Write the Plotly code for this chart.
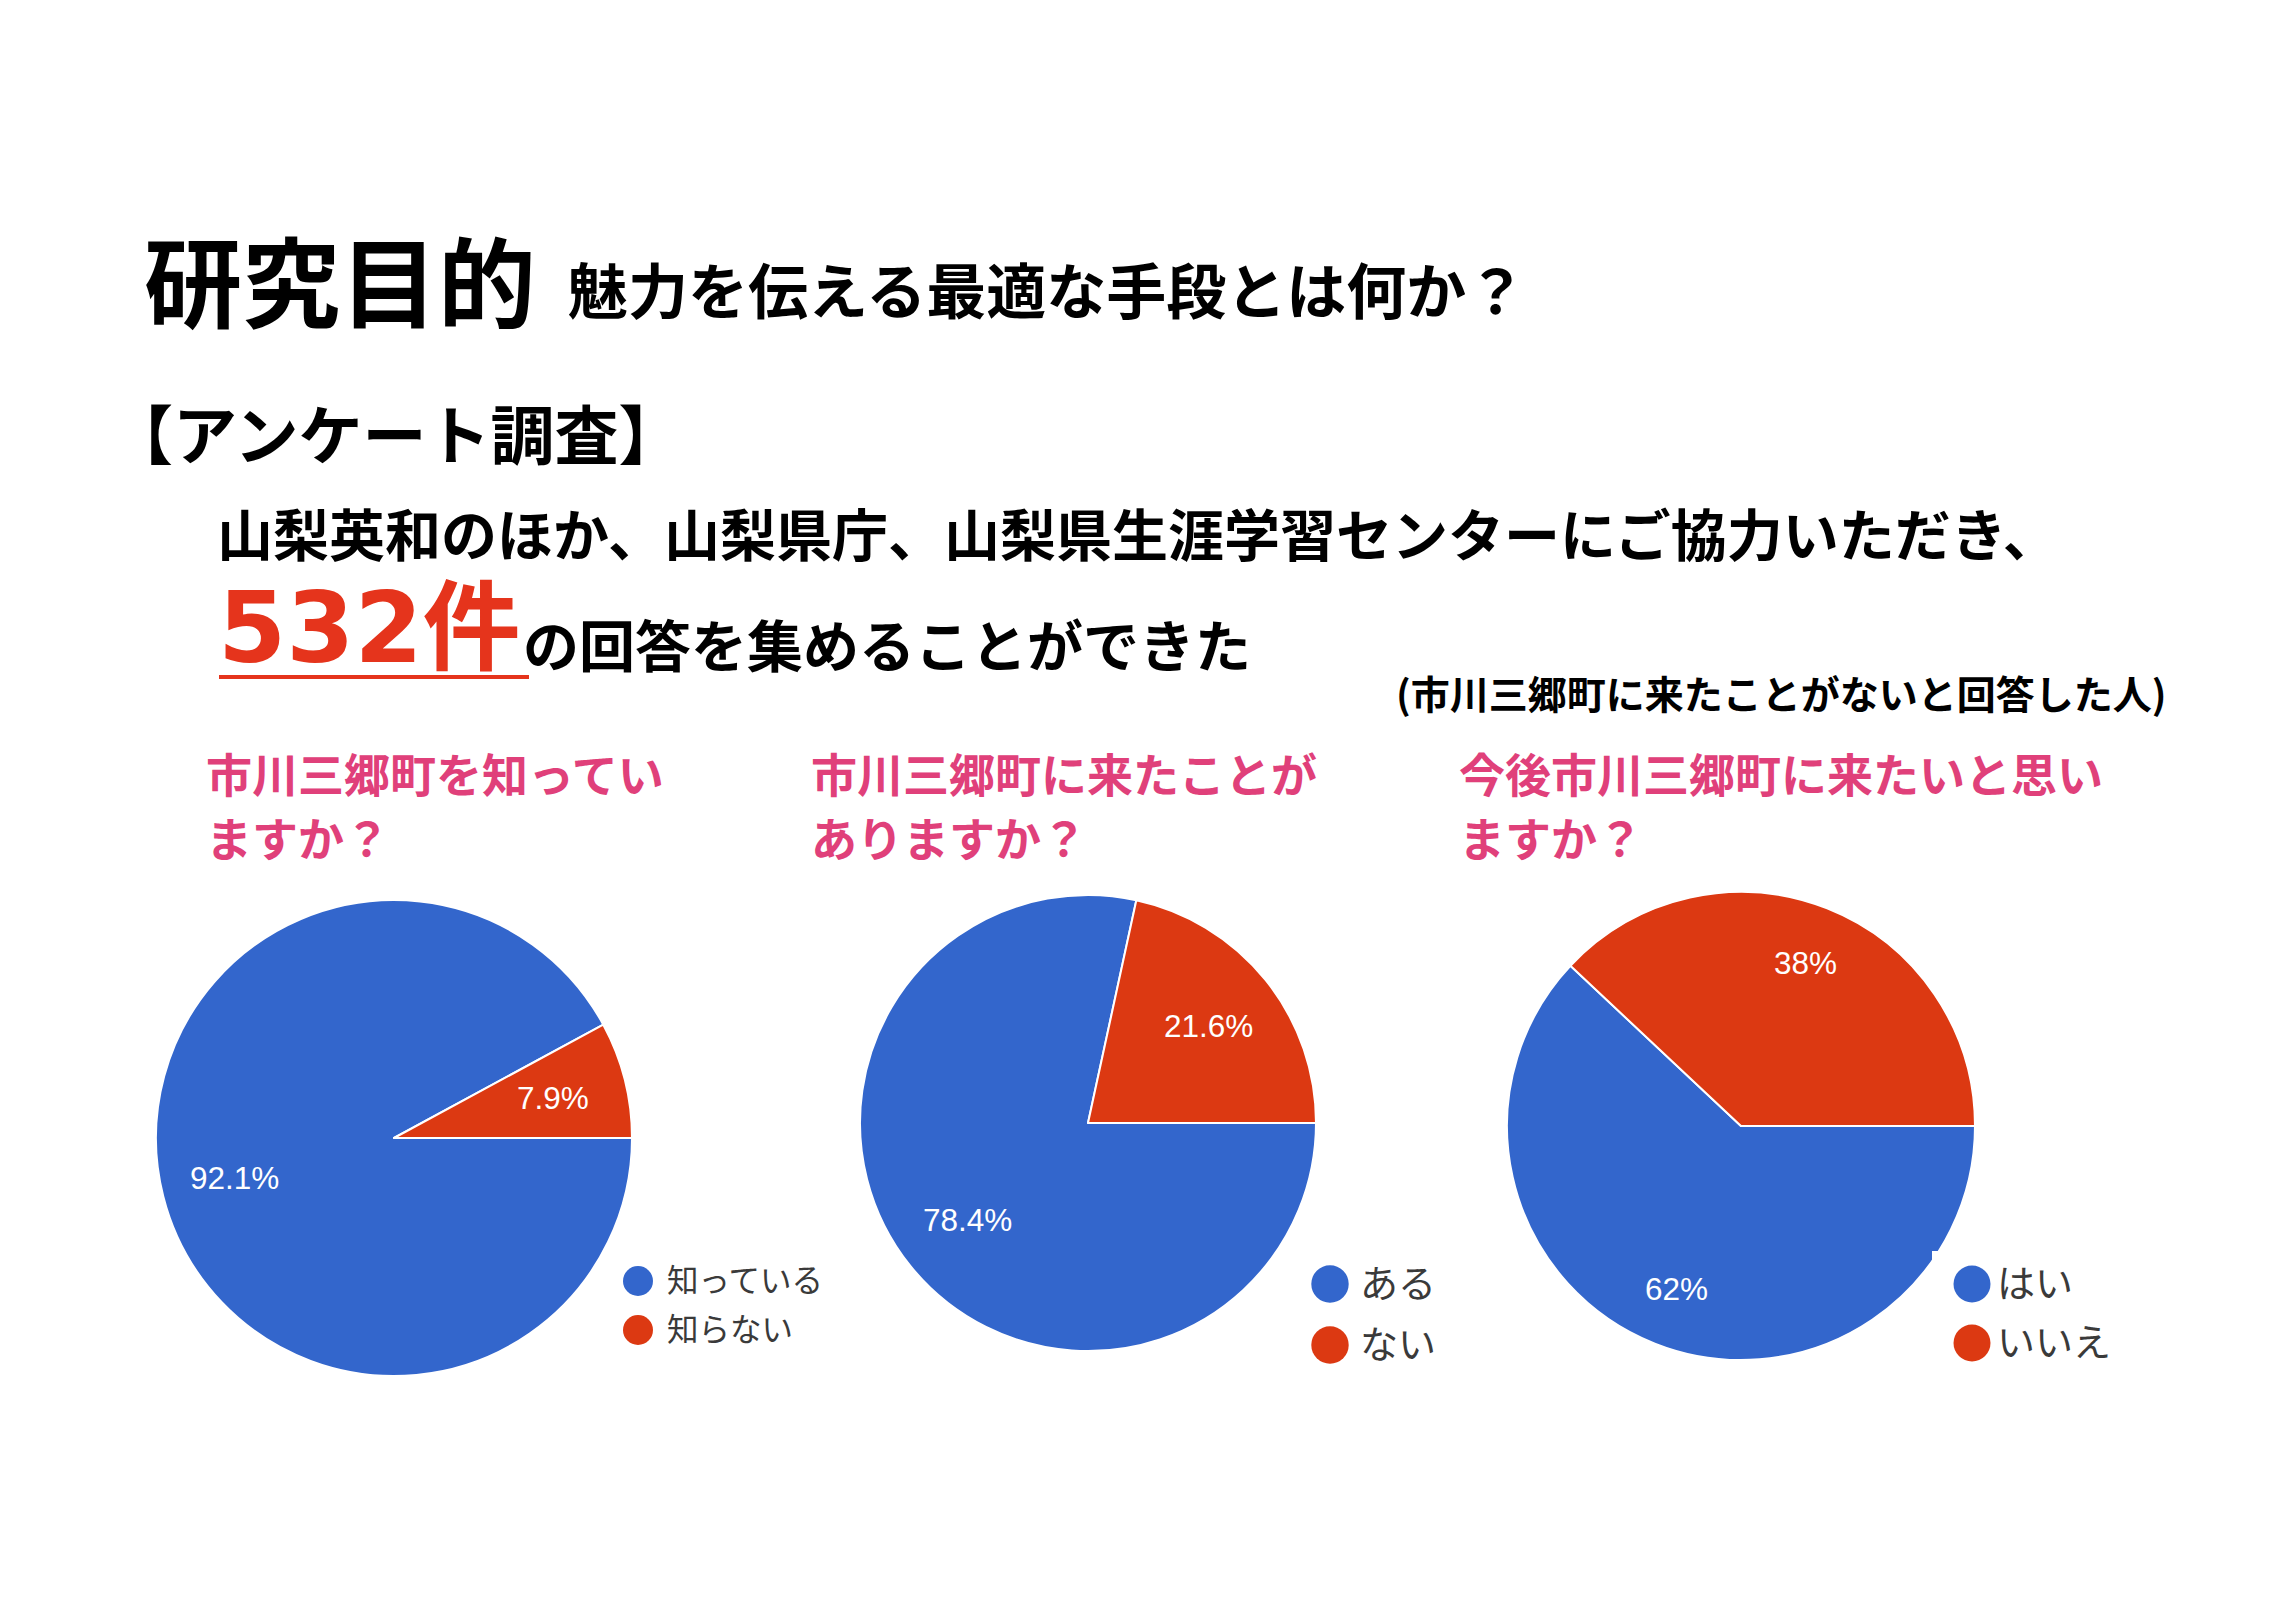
import math
import plotly.graph_objects as go

W, H = 2281, 1613

# ---------------- data ----------------
q1_title = ["市川三郷町を知ってい", "ますか？"]
q1_labels = ["知っている", "知らない"]
q1_values = [92.1, 7.9]

q2_title = ["市川三郷町に来たことが", "ありますか？"]
q2_labels = ["ある", "ない"]
q2_values = [78.4, 21.6]

q3_title = ["今後市川三郷町に来たいと思い", "ますか？"]
q3_labels = ["はい", "いいえ"]
q3_values = [62, 38]

slice_colors = ["#3366CC", "#DC3912"]

# ---------------- layout helpers ----------------
OFF = 8  # page body margin


def X(px):
    return (px - OFF) / W


def Y(py):
    return 1 - (py - OFF) / H


CJK = "Noto Sans CJK JP"
ARIAL = "Liberation Sans, Arial, Noto Sans CJK JP"

pies = [
    dict(title=q1_title, labels=q1_labels, values=q1_values, cx=394, cy=1138, r=238, k=0.69,
         title_x=204, leg_x=638, leg_y=[1281, 1330], leg_r=15, leg_font=31.5, leg_tx=665),
    dict(title=q2_title, labels=q2_labels, values=q2_values, cx=1088, cy=1123, r=228, k=0.68,
         title_x=809, leg_x=1330, leg_y=[1284, 1345], leg_r=18.7, leg_font=38, leg_tx=1358),
    dict(title=q3_title, labels=q3_labels, values=q3_values, cx=1741, cy=1126, r=234, k=0.75,
         title_x=1457, leg_x=1972, leg_y=[1284, 1343], leg_r=18.5, leg_font=38, leg_tx=1995),
]

ROT = 90  # first slice starts at 3 o'clock, clockwise

fig = go.Figure()
annotations = []
shapes = []


def cjk_y(py, size):
    # shift so that the visual centre of CJK glyphs lands on py
    return Y(py - 0.1 * size)


for p in pies:
    fig.add_trace(go.Pie(
        labels=p["labels"], values=p["values"],
        sort=False, direction="clockwise", rotation=ROT,
        marker=dict(colors=slice_colors, line=dict(color="white", width=2)),
        textinfo="none", hoverinfo="label+percent", showlegend=False,
        domain=dict(x=[X(p["cx"] - p["r"]), X(p["cx"] + p["r"])],
                    y=[Y(p["cy"] + p["r"]), Y(p["cy"] - p["r"])]),
    ))
    total = sum(p["values"])
    cum = 0.0
    for v in p["values"]:
        mid = math.radians(ROT + 360.0 * (cum + v / 2.0) / total)
        cum += v
        lx = p["cx"] + p["k"] * p["r"] * math.sin(mid)
        ly = p["cy"] - p["k"] * p["r"] * math.cos(mid)
        annotations.append(dict(
            x=X(lx), y=Y(ly), xref="paper", yref="paper", showarrow=False,
            text=f"{v:g}%", font=dict(family=ARIAL, size=31.5, color="white"),
            xanchor="center", yanchor="middle"))
    for i, line in enumerate(p["title"]):
        annotations.append(dict(
            x=X(p["title_x"]), y=cjk_y(777 + 64 * i, 46), xref="paper", yref="paper",
            showarrow=False, text=line,
            font=dict(family=CJK, size=46, color="#E0407A", weight=700),
            xanchor="left", yanchor="middle"))
    for i, lab in enumerate(p["labels"]):
        ly = p["leg_y"][i]
        rr = p["leg_r"]
        shapes.append(dict(
            type="circle", xref="paper", yref="paper",
            x0=X(p["leg_x"] - rr), x1=X(p["leg_x"] + rr),
            y0=Y(ly + rr), y1=Y(ly - rr),
            fillcolor=slice_colors[i], line=dict(width=0), layer="above"))
        annotations.append(dict(
            x=X(p["leg_tx"]), y=cjk_y(ly, p["leg_font"]), xref="paper", yref="paper",
            showarrow=False, text=lab,
            font=dict(family=CJK, size=p["leg_font"], color="#3a3a3a"),
            xanchor="left", yanchor="middle"))

# white legend background clipping the third pie's edge
shapes.insert(0, dict(type="rect", xref="paper", yref="paper",
                      x0=X(1932), x1=X(2200), y0=Y(1400), y1=Y(1251),
                      fillcolor="white", line=dict(width=0), layer="above"))


def txt(x, y, s, size, color="black", family=CJK, weight=700, cjk=True):
    annotations.append(dict(
        x=X(x), y=cjk_y(y, size) if cjk else Y(y), xref="paper", yref="paper",
        showarrow=False, text=s,
        font=dict(family=family, size=size, color=color, weight=weight),
        xanchor="left", yanchor="middle"))


txt(142, 287, "研究目的", 98)
txt(566, 294, "魅力を伝える最適な手段とは何か？", 60)
txt(107, 437, "【アンケート調査】", 64)
txt(215, 537, "山梨英和のほか、山梨県庁、山梨県生涯学習センターにご協力いただき、", 56)
txt(216, 628, "532件", 98, color="#E5341C", family="DejaVu Sans, Noto Sans CJK JP", cjk=False)
txt(521, 648, "の回答を集めることができた", 56)
txt(1394, 696, "(市川三郷町に来たことがないと回答した人)", 39)

# underline of 532件
shapes.append(dict(type="line", xref="paper", yref="paper",
                   x0=X(219), x1=X(529), y0=Y(677), y1=Y(677),
                   line=dict(color="#E5341C", width=4)))

fig.update_layout(
    width=W, height=H,
    margin=dict(l=0, r=0, t=0, b=0),
    paper_bgcolor="white", plot_bgcolor="white",
    annotations=annotations, shapes=shapes,
    showlegend=False,
)

fig.write_html("out.html")
